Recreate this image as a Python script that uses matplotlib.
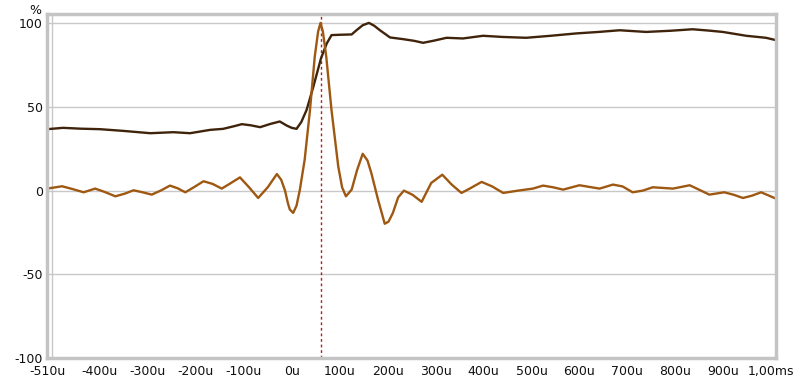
import numpy as np
import matplotlib
matplotlib.use('Agg')
import matplotlib.pyplot as plt

# Step response (dark line), time in microseconds, value in %
step_t = [-510, -477, -440, -400, -352, -295, -247, -212, -170, -143, -120, -104,
          -85, -66, -45, -25, -10, 0, 10, 20, 31, 45, 61, 73, 83, 100, 125,
          135, 148, 161, 172, 184, 205, 232, 255, 274, 295, 323, 357, 399,
          440, 489, 540, 593, 640, 684, 739, 790, 836, 870, 899, 948, 989, 1010]
step_v = [36.7, 37.5, 37.0, 36.7, 35.7, 34.3, 34.9, 34.3, 36.3, 36.9, 38.5, 39.7,
          39.0, 37.9, 39.8, 41.3, 38.8, 37.5, 36.9, 41.0, 48.2, 62.0, 79.0, 87.9,
          92.9, 93.1, 93.3, 95.8, 98.8, 100.2, 98.5, 95.8, 91.5, 90.5, 89.5, 88.3,
          89.5, 91.3, 90.9, 92.5, 91.8, 91.3, 92.5, 93.9, 94.8, 95.8, 94.8, 95.5,
          96.4, 95.6, 94.8, 92.5, 91.3, 89.9]

# Impulse response (orange line)
imp_t = [-510, -479, -458, -434, -410, -390, -368, -348, -330, -311, -292, -272,
         -254, -238, -222, -203, -184, -165, -146, -127, -108, -89, -70, -50,
         -31, -22, -14, -8, -4, 3, 10, 17, 27, 38, 48, 55, 60, 65, 72, 83, 97,
         105, 113, 125, 136, 148, 158, 166, 180, 194, 202, 211, 222, 234, 252,
         271, 281, 291, 314, 334, 354, 373, 396, 418, 441, 472, 503, 524, 545,
         566, 600, 621, 642, 670, 690, 711, 732, 753, 795, 830, 850, 871, 902,
         922, 941, 960, 979, 1010]
imp_v = [1.2, 2.6, 1.0, -1.0, 1.2, -0.8, -3.4, -1.8, 0.2, -1.0, -2.4, 0.2,
         3.0, 1.4, -1.0, 2.2, 5.6, 4.0, 1.2, 4.5, 7.9, 2.0, -4.4, 2.0,
         9.9, 6.5, 0.0, -7.5, -11.3, -13.3, -9.0, 0.6, 18.5, 48.0, 80.0, 95.0,
         100.2, 95.0, 80.0, 48.0, 14.5, 2.0, -3.4, 0.6, 12.0, 22.0, 18.0, 10.5,
         -5.4, -19.8, -18.5, -13.3, -4.0, 0.0, -2.5, -6.7, -1.0, 4.6, 9.5, 3.5,
         -1.4, 1.5, 5.2, 2.5, -1.4, 0.0, 1.2, 3.0, 2.0, 0.6, 3.2, 2.2, 1.2, 3.6,
         2.5, -1.0, 0.0, 2.0, 1.2, 3.2, 0.5, -2.4, -1.0, -2.5, -4.4, -3.0, -1.0,
         -4.8]

marker_t = 60

x_ticks = [-510, -400, -300, -200, -100, 0, 100, 200, 300, 400, 500, 600, 700, 800, 900, 1000]
x_labels = ['-510u', '-400u', '-300u', '-200u', '-100u', '0u', '100u', '200u', '300u',
            '400u', '500u', '600u', '700u', '800u', '900u', '1,00ms']
y_ticks = [-100, -50, 0, 50, 100]
y_labels = ['-100', '-50', '0', '50', '100']

fig = plt.figure(figsize=(8, 3.79), dpi=100)
ax = fig.add_axes([0.059, 0.0554, 0.911, 0.9076])

ax.set_xlim(-510, 1010)
ax.set_ylim(-100, 105.5)

ax.set_xticks(x_ticks)
ax.set_xticklabels(x_labels)
ax.set_xticks(np.arange(-500, 1001, 100), minor=True)
ax.set_yticks(y_ticks)
ax.set_yticklabels(y_labels)
ax.tick_params(which='both', length=0, labelsize=9, colors='#111111')
ax.tick_params(axis='x', pad=5)
ax.tick_params(axis='y', pad=3)
ax.grid(which='minor', axis='x', color='#c8c8c8', linewidth=1)
ax.grid(which='major', axis='y', color='#c8c8c8', linewidth=1)
ax.set_axisbelow(True)

for s in ax.spines.values():
    s.set_color('#c4c4c4')
    s.set_linewidth(2.5)

ax.axvline(marker_t, color='#b02020', linestyle=(0, (2, 2)), linewidth=1)
ax.plot(step_t, step_v, color='#3f230b', linewidth=1.7, solid_joinstyle='round')
ax.plot(imp_t, imp_v, color='#9e5812', linewidth=1.7, solid_joinstyle='round')

fig.text(0.044, 0.972, '%', fontsize=9, ha='center', va='center', color='#111111')

fig.savefig('out.png', dpi=100)
